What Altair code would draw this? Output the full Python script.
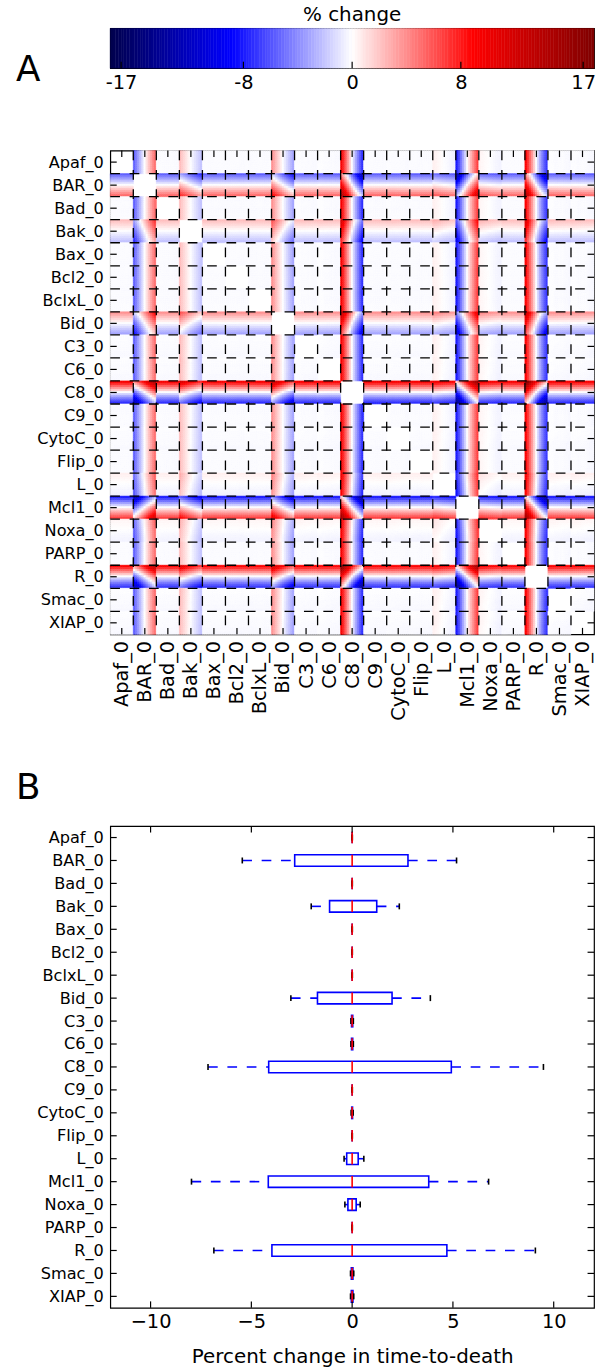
import altair as alt
import numpy as np
import pandas as pd

names = ["Apaf_0", "BAR_0", "Bad_0", "Bak_0", "Bax_0", "Bcl2_0", "BclxL_0", "Bid_0",
         "C3_0", "C6_0", "C8_0", "C9_0", "CytoC_0", "Flip_0", "L_0", "Mcl1_0",
         "Noxa_0", "PARP_0", "R_0", "Smac_0", "XIAP_0"]

# % change in time-to-death at 11 perturbation levels of each parameter
# (order: left->right inside a column cell, top->bottom inside a row cell)
p_Apaf = [-0.05, -0.05, -0.06, -0.06, -0.06, -0.06, -0.06, -0.06, -0.06, -0.07, -0.07]
p_BAR = [-5.45, -4.35, -3.3, -2.2, -1.1, 0.0, 1.05, 2.1, 3.1, 4.15, 5.18]
p_Bad = [-0.05, -0.05, -0.06, -0.06, -0.06, -0.06, -0.06, -0.06, -0.06, -0.07, -0.07]
p_Bak = [2.34, 1.85, 1.4, 0.93, 0.47, 0.0, -0.42, -0.83, -1.23, -1.63, -2.03]
p_Bax = [-0.05, -0.05, -0.06, -0.06, -0.06, -0.06, -0.06, -0.06, -0.06, -0.07, -0.07]
p_Bcl2 = [-0.07, -0.07, -0.06, -0.06, -0.06, -0.06, -0.06, -0.06, -0.06, -0.05, -0.05]
p_BclxL = [-0.07, -0.07, -0.06, -0.06, -0.06, -0.06, -0.06, -0.06, -0.06, -0.05, -0.05]
p_Bid = [3.88, 3.05, 2.25, 1.5, 0.73, 0.0, -0.65, -1.3, -1.9, -2.5, -3.04]
p_C3 = [0.0, -0.01, -0.02, -0.04, -0.05, -0.06, -0.07, -0.08, -0.1, -0.11, -0.12]
p_C6 = [0.0, -0.01, -0.02, -0.04, -0.05, -0.06, -0.07, -0.08, -0.1, -0.11, -0.12]
p_C8 = [9.49, 7.6, 5.7, 3.8, 1.9, 0.0, -1.6, -3.1, -4.5, -5.9, -7.15]
p_C9 = [-0.05, -0.05, -0.06, -0.06, -0.06, -0.06, -0.06, -0.06, -0.06, -0.07, -0.07]
p_CytoC = [-0.01, -0.02, -0.03, -0.04, -0.05, -0.06, -0.07, -0.08, -0.09, -0.1, -0.11]
p_Flip = [-0.05, -0.05, -0.06, -0.06, -0.06, -0.06, -0.06, -0.06, -0.06, -0.07, -0.07]
p_L = [0.58, 0.47, 0.35, 0.23, 0.12, 0.0, -0.08, -0.16, -0.24, -0.32, -0.4]
p_Mcl1 = [-7.97, -6.4, -4.85, -3.2, -1.6, 0.0, 1.4, 2.8, 4.1, 5.4, 6.77]
p_Noxa = [0.4, 0.32, 0.24, 0.16, 0.08, 0.0, -0.07, -0.14, -0.22, -0.29, -0.36]
p_PARP = [-0.05, -0.05, -0.06, -0.06, -0.06, -0.06, -0.06, -0.06, -0.06, -0.07, -0.07]
p_R = [9.09, 7.3, 5.5, 3.7, 1.85, 0.0, -1.6, -3.1, -4.5, -5.8, -6.86]
p_Smac = [0.02, 0.0, -0.01, -0.03, -0.04, -0.06, -0.08, -0.09, -0.11, -0.12, -0.14]
p_XIAP = [0.02, 0.0, -0.01, -0.03, -0.04, -0.06, -0.08, -0.09, -0.11, -0.12, -0.14]
profiles = [p_Apaf, p_BAR, p_Bad, p_Bak, p_Bax, p_Bcl2, p_BclxL, p_Bid, p_C3, p_C6,
            p_C8, p_C9, p_CytoC, p_Flip, p_L, p_Mcl1, p_Noxa, p_PARP, p_R, p_Smac, p_XIAP]

# box plot summaries (panel B)
box_min = [-0.01, -5.45, -0.01, -2.03, -0.01, -0.01, -0.01, -3.04, -0.06, -0.06, -7.15,
           -0.01, -0.05, -0.01, -0.40, -7.97, -0.36, -0.01, -6.86, -0.08, -0.08]
box_q1 = [0.0, -2.85, 0.0, -1.12, 0.0, 0.0, 0.0, -1.72, -0.03, -0.03, -4.14,
          0.0, -0.02, 0.0, -0.27, -4.16, -0.21, 0.0, -3.98, -0.04, -0.04]
box_med = [0.0] * 21
box_q3 = [0.0, 2.77, 0.0, 1.22, 0.0, 0.0, 0.0, 1.98, 0.03, 0.03, 4.92,
          0.0, 0.02, 0.0, 0.30, 3.80, 0.20, 0.0, 4.70, 0.04, 0.04]
box_max = [0.01, 5.18, 0.01, 2.34, 0.01, 0.01, 0.01, 3.88, 0.06, 0.06, 9.49,
           0.01, 0.05, 0.01, 0.58, 6.77, 0.40, 0.01, 9.09, 0.08, 0.08]

cbar_ticks = [-17, -8, 0, 8, 17]
box_xticks = [-10, -5, 0, 5, 10]

FONT = "DejaVu Sans"
LFS = 19.5      # numeric tick labels / rotated names
YFS = 16.25     # row-name labels
TFS = 20
W = 487
HH = 487
HB = 485
CBH = 40
N = 11
M = 21 * N
TL = 6.5
DASH = [9.75, 9.75]
LW = 1.6
XTITLE = "Percent change in time-to-death"

seis_dom = [-17.8, -8.9, 0, 8.9, 17.8]
seis_rng = ["#00004c", "#0000ff", "#ffffff", "#ff0000", "#800000"]


def cscale():
    return alt.Scale(domain=seis_dom, range=seis_rng, interpolate="rgb", clamp=True)


# ---------- colorbar ----------
cb_lo = np.round(np.arange(-17.8, 17.8, 0.2), 2)
cb = pd.DataFrame({"lo": cb_lo, "hi": np.round(cb_lo + 0.2, 2), "mid": np.round(cb_lo + 0.1, 2)})
cbx = alt.Scale(domain=[-17.8, 17.8], nice=False, zero=False)
cbar_rect = alt.Chart(cb).mark_rect(strokeWidth=0.5).encode(
    x=alt.X("lo:Q", scale=cbx, axis=alt.Axis(values=cbar_ticks, labelExpr="'' + datum.value",
                                               tickCount=40, ticks=False, domain=False,
                                               grid=False, title=None, labelFont=FONT, labelFontSize=LFS,
                                               labelColor="black", labelPadding=5)),
    x2="hi:Q",
    y=alt.value(0), y2=alt.value(CBH),
    color=alt.Color("mid:Q", scale=cscale(), legend=None),
    stroke=alt.Stroke("mid:Q", scale=cscale(), legend=None),
)
cb_tick_df = pd.DataFrame({"t": cbar_ticks})
cbar_ticks_m = alt.Chart(cb_tick_df).mark_rule(color="black", strokeWidth=1.2).encode(
    x=alt.X("t:Q", scale=cbx, title=None), y=alt.value(CBH - TL), y2=alt.value(CBH))
label_A = alt.Chart(alt.Data(values=[{"t": "A"}])).mark_text(
    font=FONT, fontSize=36, align="left", baseline="middle", color="black").encode(
    text="t:N", x=alt.value(-95), y=alt.value(42))
colorbar = alt.layer(cbar_rect, cbar_ticks_m, label_A).properties(
    width=W, height=CBH,
    title=alt.Title("% change", font=FONT, fontSize=TFS, fontWeight="normal", color="black",
                    frame="group", anchor="middle", offset=3))

# ---------- heatmap ----------
rows = []
for r in range(21):
    for c in range(21):
        if r == c:
            continue
        for i in range(N):
            for j in range(N):
                rows.append((c * N + j, r * N + i, round(profiles[r][i] + profiles[c][j], 2)))
heat = pd.DataFrame(rows, columns=["xs", "ys", "v"])

xsc = alt.Scale(domain=[0, M], nice=False, zero=False)
ysc = alt.Scale(domain=[0, M], nice=False, zero=False, reverse=True)
centers = [k * N + N / 2 for k in range(21)]
label_arr = "[" + ",".join("'%s'" % n for n in names) + "]"
lexpr = "%s[floor(datum.value/%d)]" % (label_arr, N)

heat_rect = alt.Chart(heat).mark_rect(strokeWidth=0.6).transform_calculate(
    xe="datum.xs+1", ye="datum.ys+1").encode(
    x=alt.X("xs:Q", scale=xsc, axis=alt.Axis(values=centers, tickCount=40, labelExpr=lexpr, labelAngle=-90,
                                              labelAlign="right", labelBaseline="middle",
                                              labelFont=FONT, labelFontSize=LFS, labelColor="black",
                                              ticks=False, domain=False, grid=False, title=None,
                                              labelPadding=6)),
    x2="xe:Q",
    y=alt.Y("ys:Q", scale=ysc, axis=alt.Axis(values=centers, tickCount=40, labelExpr=lexpr,
                                              labelFont=FONT, labelFontSize=YFS, labelColor="black",
                                              ticks=False, domain=False, grid=False, title=None,
                                              labelPadding=7)),
    y2="ye:Q",
    color=alt.Color("v:Q", scale=cscale(), legend=None),
    stroke=alt.Stroke("v:Q", scale=cscale(), legend=None),
)
bnd = pd.DataFrame({"b": [k * N for k in range(1, 21)]})
vgrid = alt.Chart(bnd).mark_rule(color="black", strokeWidth=1.3, strokeDash=DASH).encode(
    x=alt.X("b:Q", scale=xsc, title=None), y=alt.value(0), y2=alt.value(HH))
hgrid = alt.Chart(bnd).mark_rule(color="black", strokeWidth=1.3, strokeDash=DASH).encode(
    y=alt.Y("b:Q", scale=ysc, title=None), x=alt.value(0), x2=alt.value(W))
cdf = pd.DataFrame({"c": centers})
tk_l = alt.Chart(cdf).mark_rule(color="black", strokeWidth=1.2).encode(
    y=alt.Y("c:Q", scale=ysc, title=None), x=alt.value(0), x2=alt.value(TL))
tk_r = alt.Chart(cdf).mark_rule(color="black", strokeWidth=1.2).encode(
    y=alt.Y("c:Q", scale=ysc, title=None), x=alt.value(W - TL), x2=alt.value(W))
tk_t = alt.Chart(cdf).mark_rule(color="black", strokeWidth=1.2).encode(
    x=alt.X("c:Q", scale=xsc, title=None), y=alt.value(0), y2=alt.value(TL))
tk_b = alt.Chart(cdf).mark_rule(color="black", strokeWidth=1.2).encode(
    x=alt.X("c:Q", scale=xsc, title=None), y=alt.value(HH - TL), y2=alt.value(HH))
heatmap = alt.layer(heat_rect, vgrid, hgrid, tk_l, tk_r, tk_t, tk_b).properties(width=W, height=HH)

# ---------- box plot ----------
bdf = pd.DataFrame({"pos": list(range(1, 22)), "mn": box_min, "q1": box_q1, "med": box_med,
                    "q3": box_q3, "mx": box_max})
xb = alt.Scale(domain=[-12, 12], nice=False, zero=False)
yb = alt.Scale(domain=[0.5, 21.5], nice=False, zero=False, reverse=True)
base = alt.Chart(bdf).transform_calculate(
    lo="datum.pos-0.25", hi="datum.pos+0.25", clo="datum.pos-0.13", chi="datum.pos+0.13")
yname = "[" + ",".join("'%s'" % n for n in names) + "][datum.value-1]"
boxes = base.mark_rect(filled=False, stroke="#0000ff", strokeWidth=LW).encode(
    x=alt.X("q1:Q", scale=xb, axis=alt.Axis(values=box_xticks, tickCount=40,
                                           labelExpr="replace('' + datum.value, '-', '\u2212')",
                                           ticks=False, domain=False, grid=False,
                                           labelFont=FONT, labelFontSize=LFS, labelColor="black",
                                           labelPadding=5,
                                           title=XTITLE, titleFont=FONT,
                                           titleFontSize=TFS, titleFontWeight="normal",
                                           titleColor="black", titlePadding=16)),
    x2="q3:Q",
    y=alt.Y("lo:Q", scale=yb, axis=alt.Axis(values=list(range(1, 22)), tickCount=40, labelExpr=yname,
                                            ticks=False, domain=False, grid=False, title=None,
                                            labelFont=FONT, labelFontSize=YFS, labelColor="black",
                                            labelPadding=7)),
    y2="hi:Q")
whisk_l = base.mark_rule(color="#0000ff", strokeWidth=LW, strokeDash=DASH).encode(
    x=alt.X("mn:Q", scale=xb, title=XTITLE), x2="q1:Q", y=alt.Y("pos:Q", scale=yb, title=None))
whisk_r = base.mark_rule(color="#0000ff", strokeWidth=LW, strokeDash=DASH).encode(
    x=alt.X("q3:Q", scale=xb, title=XTITLE), x2="mx:Q", y=alt.Y("pos:Q", scale=yb, title=None))
cap_l = base.mark_rule(color="black", strokeWidth=LW).encode(
    x=alt.X("mn:Q", scale=xb, title=XTITLE), y=alt.Y("clo:Q", scale=yb, title=None), y2="chi:Q")
cap_r = base.mark_rule(color="black", strokeWidth=LW).encode(
    x=alt.X("mx:Q", scale=xb, title=XTITLE), y=alt.Y("clo:Q", scale=yb, title=None), y2="chi:Q")
medians = base.mark_rule(color="#ff0000", strokeWidth=LW).encode(
    x=alt.X("med:Q", scale=xb, title=XTITLE), y=alt.Y("lo:Q", scale=yb, title=None), y2="hi:Q")
pdf = pd.DataFrame({"p": list(range(1, 22))})
bt_l = alt.Chart(pdf).mark_rule(color="black", strokeWidth=1.2).encode(
    y=alt.Y("p:Q", scale=yb, title=None), x=alt.value(0), x2=alt.value(TL))
bt_r = alt.Chart(pdf).mark_rule(color="black", strokeWidth=1.2).encode(
    y=alt.Y("p:Q", scale=yb, title=None), x=alt.value(W - TL), x2=alt.value(W))
xtdf = pd.DataFrame({"t": box_xticks})
bt_t = alt.Chart(xtdf).mark_rule(color="black", strokeWidth=1.2).encode(
    x=alt.X("t:Q", scale=xb, title=XTITLE), y=alt.value(0), y2=alt.value(TL))
bt_b = alt.Chart(xtdf).mark_rule(color="black", strokeWidth=1.2).encode(
    x=alt.X("t:Q", scale=xb, title=XTITLE), y=alt.value(HB - TL), y2=alt.value(HB))
label_B = alt.Chart(alt.Data(values=[{"t": "B"}])).mark_text(
    font=FONT, fontSize=36, align="left", baseline="middle", color="black").encode(
    text="t:N", x=alt.value(-95), y=alt.value(-38))
boxplot = alt.layer(boxes, whisk_l, whisk_r, cap_l, cap_r, medians, bt_l, bt_r, bt_t, bt_b,
                    label_B).properties(width=W, height=HB)

top = alt.vconcat(colorbar, heatmap, spacing=56)
chart = alt.vconcat(top, boxplot, spacing=48).properties(
    padding={"left": 15, "top": 0, "right": 0, "bottom": 0}
).configure(background="white").configure_view(
    stroke="black", strokeWidth=1.2
).configure_axis(labelOverlap=False, labelFlush=False, labelBound=False)

chart.save("out.html", embed_options={"renderer": "svg", "actions": False})
